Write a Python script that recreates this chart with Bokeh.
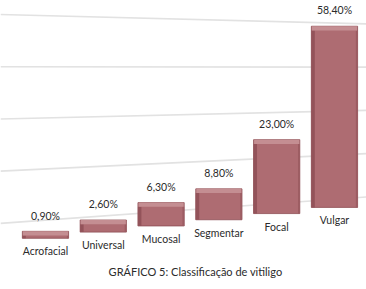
from bokeh.plotting import figure
from bokeh.models import ColumnDataSource, Label, Range1d
from bokeh.core.properties import value
from bokeh.embed import file_html
from bokeh.resources import INLINE

categories = ["Acrofacial", "Universal", "Mucosal", "Segmentar", "Focal", "Vulgar"]
values = [0.9, 2.6, 6.3, 8.8, 23.0, 58.4]
value_labels = ["0,90%", "2,60%", "6,30%", "8,80%", "23,00%", "58,40%"]
grid_values = [0, 20, 40, 60, 80]
title_text = "GRÁFICO 5: Classificação de vitiligo"

# perspective styling (3D look of the original)
base0, base_step = -10.2, 2.04
cap = 1.4
x0, x1 = -0.778, 5.554

xs = list(range(len(categories)))
bottoms = [base0 + base_step * i for i in xs]
tops = [b + v for b, v in zip(bottoms, values)]

src = ColumnDataSource(dict(
    x=xs, bottom=bottoms, top=tops, cap_top=[t + cap for t in tops],
    xl=[x - 0.37 for x in xs], xr=[x + 0.385 for x in xs],
    lab=value_labels, lab_y=[t + 6.6 for t in tops],
    cat=categories, cat_y=[b - 4.3 for b in bottoms],
))

p = figure(width=366, height=289, output_backend="svg", toolbar_location=None,
           x_range=Range1d(x0, x1), y_range=Range1d(-27.1, 68.3),
           min_border=0, outline_line_color=None, background_fill_color="white")
p.axis.visible = False
p.grid.visible = False

# slanted back-wall gridlines
gl_left = [-5.28 + 0.862 * g for g in grid_values]
gl_right = [3.47 + 0.714 * g for g in grid_values]
p.segment(x0=[x0] * len(grid_values), y0=gl_left, x1=[x1] * len(grid_values), y1=gl_right,
          line_color="#e2e2e2", line_width=1.6)

# bars
p.vbar(x="x", width=0.80, bottom="bottom", top="cap_top", source=src,
       fill_color="#ae6c72", line_color="#8e4e54", line_width=0.8)
p.vbar(x="xl", width=0.06, bottom="bottom", top="top", source=src,
       fill_color="#93535a", line_color=None)
p.vbar(x="xr", width=0.03, bottom="bottom", top="top", source=src,
       fill_color="#9c5c62", line_color=None)
p.vbar(x="x", width=0.78, bottom="top", top="cap_top", source=src,
       fill_color="#c48e92", line_color=None)

p.text(x="x", y="lab_y", text="lab", source=src, text_align="center",
       text_baseline="middle", text_font=value("Lato"), text_font_size="10.5px",
       text_color="#2b2b2b")
p.text(x="x", y="cat_y", text="cat", source=src, text_align="center",
       text_baseline="middle", text_font=value("Lato"), text_font_size="10.5px",
       text_color="#2b2b2b")

p.add_layout(Label(x=195, y=18, x_units="screen", y_units="screen", text=title_text,
                   text_align="center", text_baseline="middle", text_font="Lato",
                   text_font_size="11px", text_color="#2b2b2b"))

open("out.html", "w").write(file_html(p, INLINE))
